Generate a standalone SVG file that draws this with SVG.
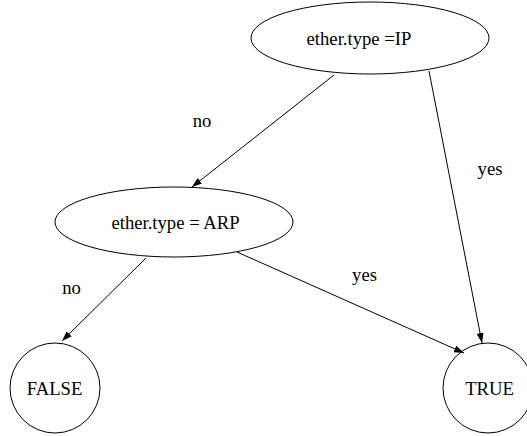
<svg xmlns="http://www.w3.org/2000/svg" width="527" height="436" viewBox="0 0 527 436">
<style>
.n{fill:none;stroke:#000;stroke-width:1}
.t{font-family:"Liberation Serif","Times New Roman",serif;font-size:18.67px;fill:#000;text-anchor:middle}
.e{fill:none;stroke:#000;stroke-width:1;marker-end:url(#ah)}
</style>
<defs>
<marker id="ah" markerWidth="10" markerHeight="7" refX="10" refY="3.5" orient="auto" markerUnits="userSpaceOnUse">
<path d="M0,0 L10,3.5 L0,7 Z" fill="#000"/>
</marker>
</defs>
<rect width="527" height="436" fill="#fff"/>
<g id="edges">
<line class="e" x1="334" y1="75" x2="192" y2="187"/>
<text class="t" x="202" y="127">no</text>
<line class="e" x1="429" y1="71" x2="482" y2="343"/>
<text class="t" x="490" y="175">yes</text>
<line class="e" x1="146" y1="258" x2="62" y2="341"/>
<text class="t" x="71.5" y="294">no</text>
<line class="e" x1="237" y1="252" x2="464" y2="353"/>
<text class="t" x="364.5" y="281">yes</text>
</g>
<g id="ip">
<ellipse class="n" cx="370" cy="38" rx="119" ry="36"/>
<text class="t" x="359" y="45">ether.type =IP</text>
</g>
<g id="arp">
<ellipse class="n" cx="174" cy="222" rx="119" ry="35"/>
<text class="t" x="175.5" y="229">ether.type = ARP</text>
</g>
<g id="false">
<circle class="n" cx="55" cy="388" r="45"/>
<text class="t" x="54.5" y="395">FALSE</text>
</g>
<g id="true">
<circle class="n" cx="488" cy="388" r="45"/>
<text class="t" x="489.5" y="395">TRUE</text>
</g>
</svg>
